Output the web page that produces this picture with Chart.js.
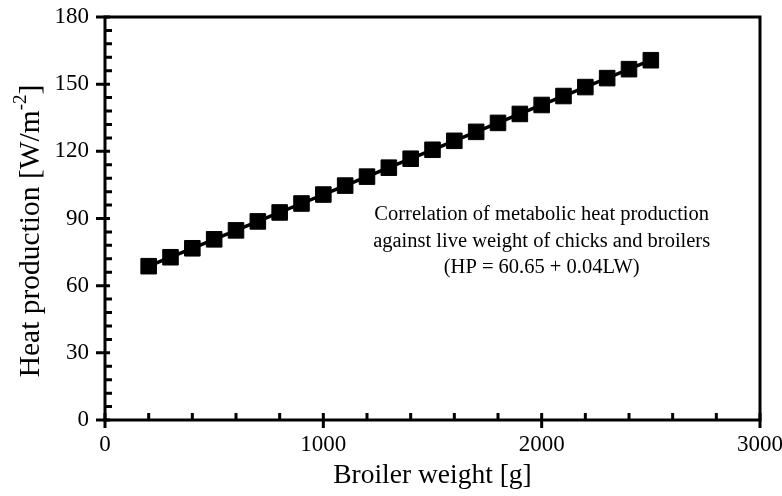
<!DOCTYPE html>
<html>
<head>
<meta charset="utf-8">
<script src="https://cdn.jsdelivr.net/npm/chart.js@4"></script>
<style>
  html, body { margin: 0; padding: 0; background: #fff; }
  #wrap { width: 782px; height: 496px; }
</style>
</head>
<body>
<div id="wrap"><canvas id="hpchart" width="782" height="496"></canvas></div>
<script>
// broiler weight [g]
const weights = [200, 300, 400, 500, 600, 700, 800, 900, 1000, 1100, 1200, 1300,
                 1400, 1500, 1600, 1700, 1800, 1900, 2000, 2100, 2200, 2300, 2400, 2500];
// heat production [W/m-2]
const heat = [68.7, 72.7, 76.7, 80.7, 84.7, 88.7, 92.7, 96.7, 100.7, 104.7, 108.7, 112.7,
              116.7, 120.7, 124.7, 128.7, 132.7, 136.7, 140.7, 144.7, 148.7, 152.7, 156.7, 160.7];
const xMajor = [0, 1000, 2000, 3000];
const xMinor = [200, 400, 600, 800, 1200, 1400, 1600, 1800, 2200, 2400, 2600, 2800];
const yMajor = [0, 30, 60, 90, 120, 150, 180];
const noteLines = ['Correlation of metabolic heat production',
                   'against live weight of chicks and broilers',
                   '(HP = 60.65 + 0.04LW)'];

const serif = '"Liberation Serif", "DejaVu Serif", serif';

// frame, inward minor ticks, crossing major ticks, y title and the note
const axesPlugin = {
    id: 'axesPlugin',
    afterDatasetsDraw(chart) {
        const ctx = chart.ctx;
        const a = chart.chartArea;
        const xs = chart.scales.x, ys = chart.scales.y;
        ctx.save();
        ctx.strokeStyle = '#000';
        ctx.lineWidth = 3;
        ctx.strokeRect(a.left, a.top, a.right - a.left, a.bottom - a.top);

        ctx.beginPath();
        xMinor.forEach(v => {
            const px = xs.getPixelForValue(v);
            ctx.moveTo(px, a.bottom);
            ctx.lineTo(px, a.bottom - 7);
        });
        xMajor.forEach(v => {
            const px = xs.getPixelForValue(v);
            ctx.moveTo(px, a.bottom - 7);
            ctx.lineTo(px, a.bottom + 8);
        });
        for (let v = 6; v < 180; v += 6) {
            if (v % 30 === 0) continue;
            const py = ys.getPixelForValue(v);
            ctx.moveTo(a.left, py);
            ctx.lineTo(a.left + 7, py);
        }
        yMajor.forEach(v => {
            const py = ys.getPixelForValue(v);
            ctx.moveTo(a.left - 9, py);
            ctx.lineTo(a.left + 5, py);
        });
        ctx.stroke();

        ctx.fillStyle = '#000';
        ctx.font = '20.5px ' + serif;
        ctx.textAlign = 'center';
        ctx.textBaseline = 'middle';
        const cx = xs.getPixelForValue(2000);
        const y0 = ys.getPixelForValue(91.6);
        noteLines.forEach((t, i) => ctx.fillText(t, cx, y0 + i * 26.5));

        // y axis title with a real superscript
        const main = '29.5px ' + serif, sup = '19px ' + serif;
        const parts = [['Heat production [W/m', main, 0], ['-2', sup, -10], [']', main, 0]];
        let total = 0;
        parts.forEach(p => { ctx.font = p[1]; total += ctx.measureText(p[0]).width; });
        ctx.translate(31, 231);
        ctx.rotate(-Math.PI / 2);
        ctx.textAlign = 'left';
        let x = -total / 2;
        parts.forEach(p => {
            ctx.font = p[1];
            ctx.fillText(p[0], x, p[2]);
            x += ctx.measureText(p[0]).width;
        });
        ctx.restore();
    }
};

const ctx = document.getElementById('hpchart');
new Chart(ctx, {
    type: 'scatter',
    data: {
        datasets: [{
            data: weights.map((w, i) => ({ x: w, y: heat[i] })),
            showLine: true,
            borderColor: '#000',
            borderWidth: 3.5,
            backgroundColor: '#000',
            pointStyle: 'rect',
            pointRadius: 11,
            pointBorderWidth: 1,
            pointHoverRadius: 11
        }]
    },
    options: {
        responsive: false,
        animation: false,
        events: [],
        layout: { padding: { top: 17, right: 22, left: 0, bottom: 0 } },
        plugins: { legend: { display: false }, tooltip: { enabled: false } },
        scales: {
            x: {
                type: 'linear',
                min: 0, max: 3000,
                afterBuildTicks(s) { s.ticks = xMajor.map(v => ({ value: v })); },
                afterFit(s) { s.height = 76; s.paddingLeft = 0; s.paddingRight = 0; },
                grid: { display: false, drawTicks: false },
                border: { display: false },
                ticks: {
                    color: '#000', font: { family: serif, size: 23 }, padding: 11, maxRotation: 0,
                    callback: v => String(v)
                },
                title: {
                    display: true, text: 'Broiler weight [g]', color: '#000',
                    font: { family: serif, size: 27.5 }, padding: { top: 2, bottom: 4 }
                }
            },
            y: {
                type: 'linear',
                min: 0, max: 180,
                afterBuildTicks(s) { s.ticks = yMajor.map(v => ({ value: v })); },
                afterFit(s) { s.width = 105; s.paddingTop = 0; s.paddingBottom = 0; },
                grid: { display: false, drawTicks: false },
                border: { display: false },
                ticks: {
                    color: '#000', font: { family: serif, size: 23 }, padding: 16,
                    callback: v => String(v)
                },
                title: { display: false }
            }
        }
    },
    plugins: [axesPlugin]
});
</script>
</body>
</html>
